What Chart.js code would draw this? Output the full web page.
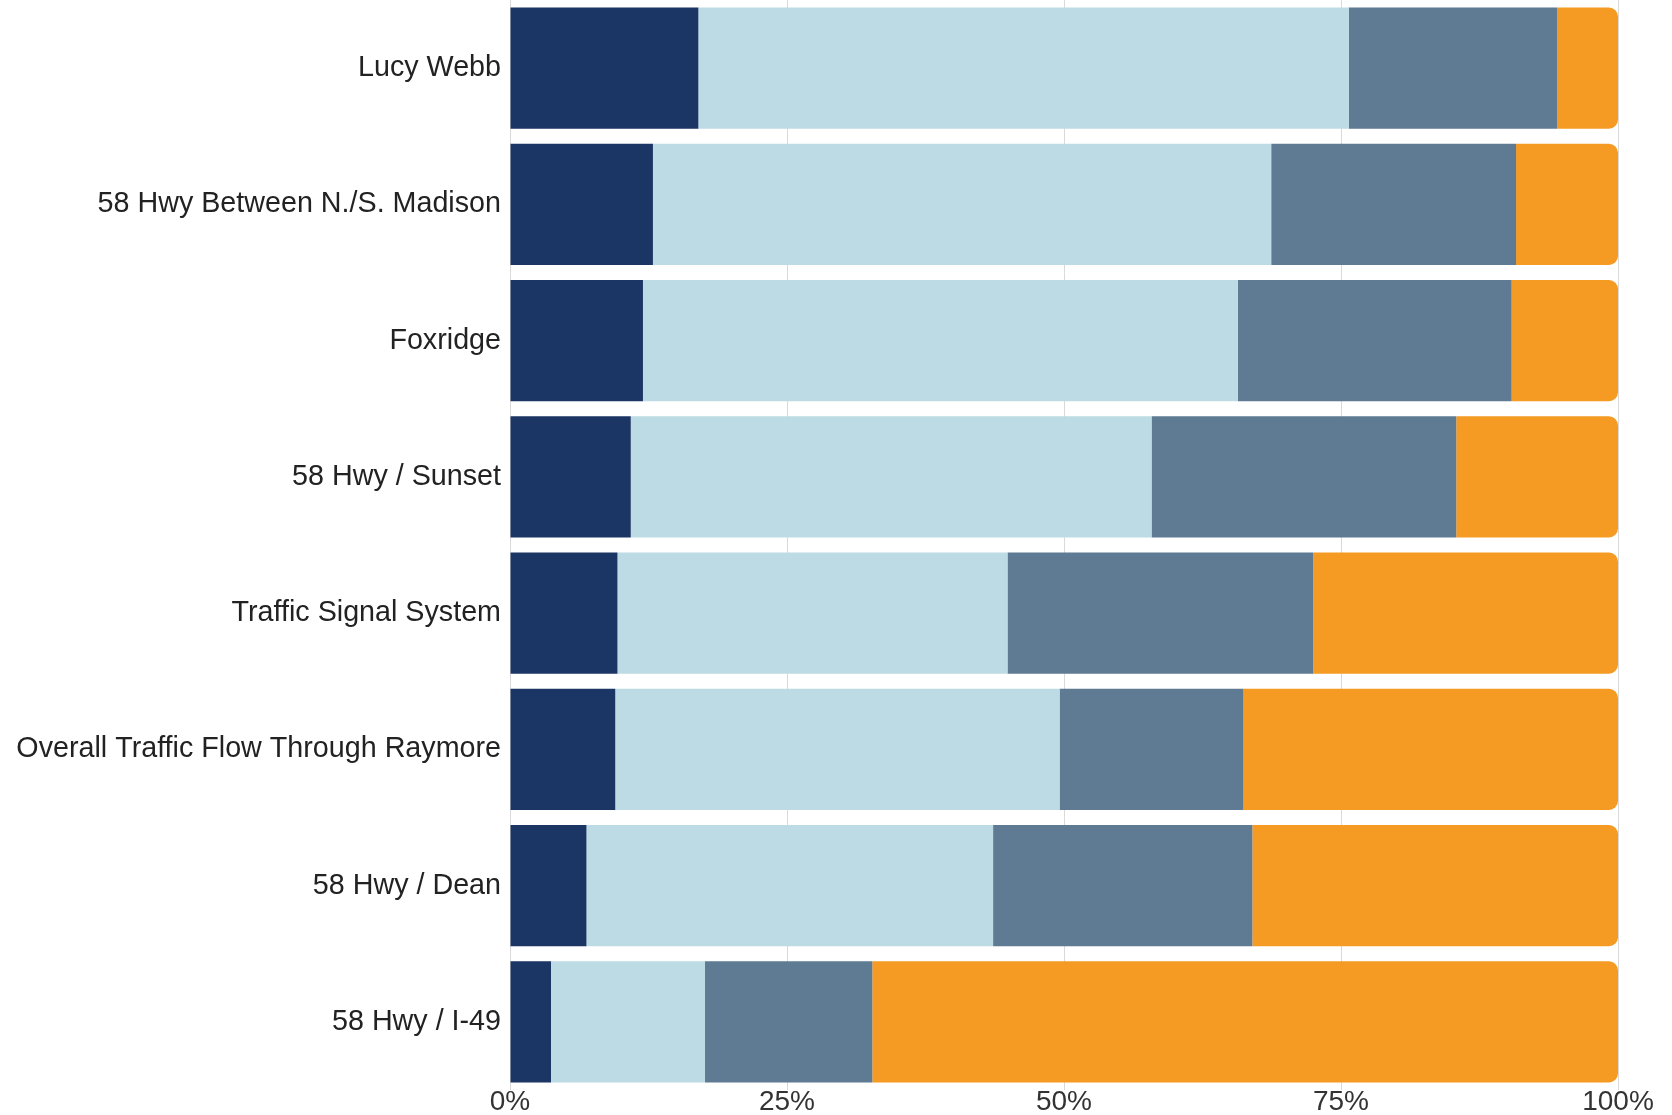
<!DOCTYPE html>
<html>
<head>
<meta charset="utf-8">
<script src="https://cdn.jsdelivr.net/npm/chart.js@4/dist/chart.umd.min.js"></script>
<style>
html,body{margin:0;padding:0;background:#ffffff;}
#wrap{width:1672px;height:1115px;position:relative;}
</style>
</head>
<body>
<div id="wrap"><canvas id="c" width="1672" height="1115"></canvas></div>
<script>
const categories = [
  "Lucy Webb",
  "58 Hwy Between N./S. Madison",
  "Foxridge",
  "58 Hwy / Sunset",
  "Traffic Signal System",
  "Overall Traffic Flow Through Raymore",
  "58 Hwy / Dean",
  "58 Hwy / I-49"
];
const series1 = [17.0, 12.9, 12.0, 10.9, 9.7, 9.5, 6.9, 3.7];
const series2 = [58.7, 55.8, 53.7, 47.0, 35.2, 40.1, 36.7, 13.9];
const series3 = [18.8, 22.1, 24.7, 27.5, 27.6, 16.6, 23.4, 15.1];
const series4 = [5.5, 9.2, 9.6, 14.6, 27.5, 33.8, 33.0, 67.3];
const xTicks = [0, 25, 50, 75, 100];

const FONT = "'Liberation Sans', Arial, sans-serif";
new Chart(document.getElementById('c'), {
  type: 'bar',
  data: {
    labels: categories,
    datasets: [
      {data: series1, backgroundColor: '#1b3564', borderRadius: 0},
      {data: series2, backgroundColor: '#bddbe4', borderRadius: 0},
      {data: series3, backgroundColor: '#5e7b93', borderRadius: 0},
      {data: series4, backgroundColor: '#f59a23',
       borderRadius: {topLeft: 0, bottomLeft: 0, topRight: 9, bottomRight: 9}, borderSkipped: false}
    ]
  },
  options: {
    indexAxis: 'y',
    responsive: false,
    animation: false,
    layout: {padding: {top: -4, right: 54, bottom: 0, left: 0}},
    plugins: {legend: {display: false}, tooltip: {enabled: false}},
    datasets: {bar: {categoryPercentage: 1.0, barPercentage: 0.89}},
    scales: {
      x: {
        stacked: true,
        min: 0, max: 100,
        afterBuildTicks: (axis) => { axis.ticks = xTicks.map(v => ({value: v})); },
        afterFit: (axis) => { axis.height = 25; },
        ticks: {
          callback: (v) => v + '%',
          color: '#333333',
          font: {family: FONT, size: 28},
          padding: -5,
          maxRotation: 0
        },
        grid: {color: '#d9d9d9', lineWidth: 1, drawTicks: false},
        border: {display: false}
      },
      y: {
        stacked: true,
        afterFit: (axis) => { axis.width = 510; axis.paddingTop = 0; axis.paddingBottom = 0; },
        ticks: {
          color: '#222222',
          font: {family: FONT, size: 28.7},
          padding: 9
        },
        grid: {display: false, drawTicks: false},
        border: {display: false}
      }
    }
  }
});
</script>
</body>
</html>
